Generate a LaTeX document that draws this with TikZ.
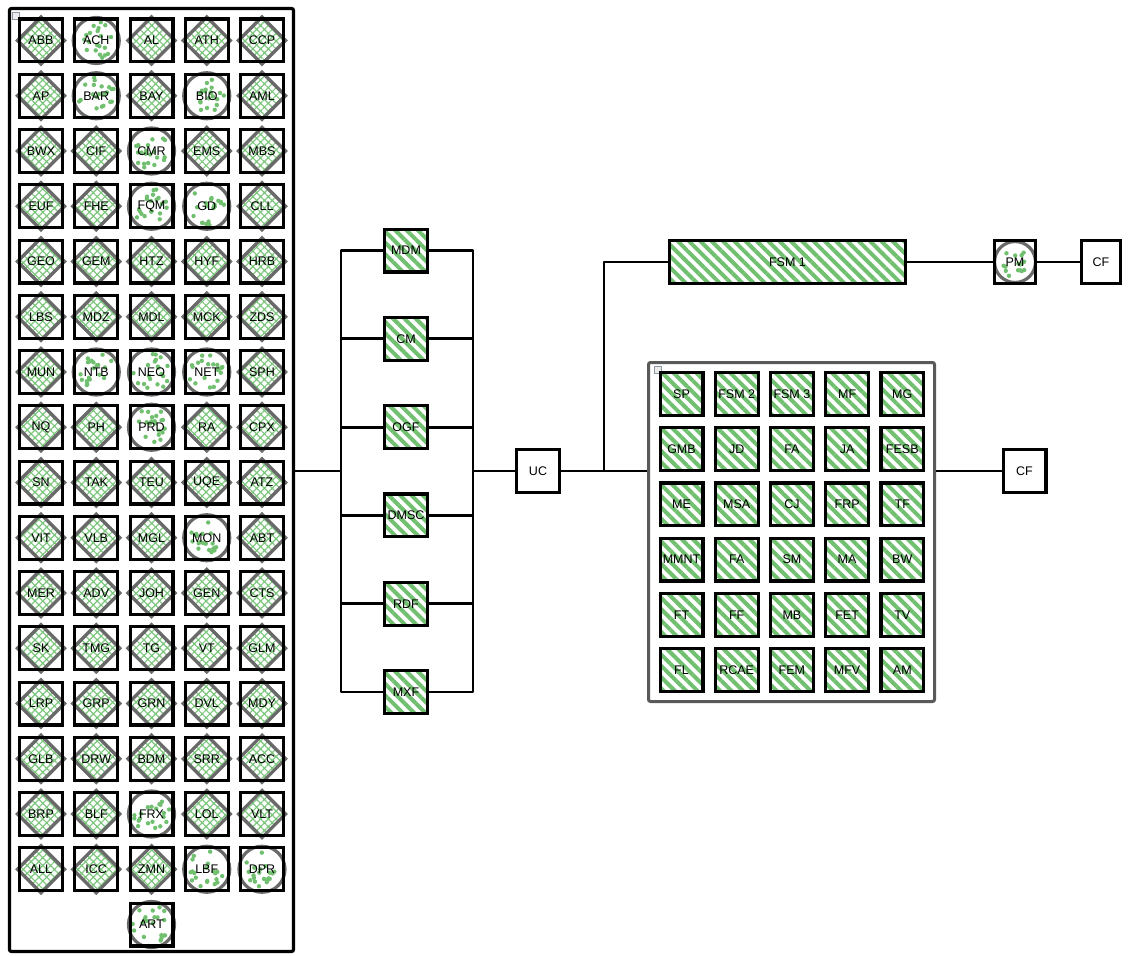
\documentclass[tikz,border=0pt]{standalone}
\usepackage{fontspec}
\setmainfont{Liberation Sans}
\usetikzlibrary{patterns.meta}
\definecolor{grn}{RGB}{112,192,112}
\definecolor{hatchg}{RGB}{125,198,125}
\definecolor{dgray}{RGB}{105,105,105}
\definecolor{icon}{RGB}{140,150,165}
\tikzset{
 cell/.style={draw=black, line width=3.2pt, minimum width=42.8pt, minimum height=42.8pt, inner sep=0pt, font=\fontsize{12.5}{13}\selectfont, text=black},
 striped/.style={pattern={Lines[angle=-45,distance=8pt,line width=4pt]}, pattern color=grn},
 hatched/.style={pattern={Hatch[angle=45,distance=5.5pt,line width=1.2pt]}, pattern color=hatchg},
 wire/.style={line width=2.9pt, line join=round},
 frame/.style={draw=black, line width=3.2pt, rounded corners=2pt, inner sep=0pt},
 gframe/.style={draw=black!65, line width=3pt, rounded corners=2pt, inner sep=0pt},
 iconbox/.style={draw=icon, line width=0.8pt, fill=black!8},
}
\newcommand{\dcellx}[4]{%
  \path[hatched, draw=dgray, line width=3.2pt] (#2,#3) +(0,-23.5) -- +(23.5,0) -- +(0,23.5) -- +(-23.5,0) -- cycle;
  \node[cell] (#1) at (#2,#3) {#4};}
\newcommand{\ccellx}[4]{%
  \draw[dgray, line width=3.2pt, fill=white] (#2,#3) circle (23);
  \foreach \k in {1,...,20}{\pgfmathsetmacro\rr{19*sqrt(rnd)}\pgfmathsetmacro\aa{360*rnd}\fill[grn] (#2,#3) ++(\aa:\rr) circle (2.2);}
  \node[cell] (#1) at (#2,#3) {#4};}
\begin{document}
\begin{tikzpicture}[x=1pt,y=-1pt]
\pgfmathsetseed{7}
\useasboundingbox (0,0) rectangle (1134,955);
% left frame
\node[frame, minimum width=284pt, minimum height=943pt] (L) at (151.5,480) {};
\draw[iconbox] (12,12) rectangle (19.5,19.5);
\foreach \row [count=\r from 0] in {
 {ABB/d,ACH/c,AL/d,ATH/d,CCP/d},
 {AP/d,BAR/c,BAY/d,BIO/c,AML/d},
 {BWX/d,CIF/d,CMR/c,EMS/d,MBS/d},
 {EUF/d,FHE/d,FQM/c,GD/c,CLL/d},
 {GEO/d,GEM/d,HTZ/d,HYF/d,HRB/d},
 {LBS/d,MDZ/d,MDL/d,MCK/d,ZDS/d},
 {MUN/d,NTB/c,NEO/c,NET/c,SPH/d},
 {NQ/d,PH/d,PRD/c,RA/d,CPX/d},
 {SN/d,TAK/d,TEU/d,UQE/d,ATZ/d},
 {VIT/d,VLB/d,MGL/d,MON/c,ABT/d},
 {MER/d,ADV/d,JOH/d,GEN/d,CTS/d},
 {SK/d,TMG/d,TG/d,VT/d,GLM/d},
 {LRP/d,GRP/d,GRN/d,DVL/d,MDY/d},
 {GLB/d,DRW/d,BDM/d,SRR/d,ACC/d},
 {BRP/d,BLF/d,FRX/c,LOL/d,VLT/d},
 {ALL/d,ICC/d,ZMN/d,LBF/c,DPR/c}}{
 \foreach \lab/\ty [count=\c from 0] in \row {
   \pgfmathsetmacro\xx{41+55.25*\c}
   \pgfmathsetmacro\yy{40.5+55.25*\r}
   \csname\ty cellx\endcsname{L-\lab}{\xx}{\yy}{\lab}
 }
}
\ccellx{L-ART}{151.5}{924.5}{ART}
% middle column
\foreach \n [count=\i from 0] in {MDM,CM,OGF,DMSC,RDF,MXF}
  \node[cell,striped] (\n) at (406,{250.5+88.3*\i}) {\n};
\node[cell, fill=white] (UC) at (538,471) {UC};
% top branch
\node[cell,striped, minimum width=236pt] (FSM1) at (787.5,262) {FSM 1};
\draw[dgray, line width=3.2pt, fill=white] (1015,262) circle (20.5);
\foreach \k in {1,...,16}{\pgfmathsetmacro\rr{16*sqrt(rnd)}\pgfmathsetmacro\aa{360*rnd}\fill[grn] (1015,262) ++(\aa:\rr) circle (2.2);}
\node[cell, minimum width=41pt] (PM) at (1015,262) {PM};
\node[cell, fill=white, minimum width=39.5pt] (CF1) at (1101,262) {CF};
% right group
\node[gframe, minimum width=286pt, minimum height=339pt] (G) at (791.5,532) {};
\draw[iconbox] (654,366) rectangle (661.5,373.5);
\foreach \row [count=\r from 0] in {{SP,FSM 2,FSM 3,MF,MG},{GMB,JD,FA,JA,FESB},{ME,MSA,CJ,FRP,TF},{MMNT,FA,SM,MA,BW},{FT,FF,MB,FET,TV},{FL,RCAE,FEM,MFV,AM}}{
 \foreach \lab [count=\c from 0] in \row {
  \node[cell, striped] (R\r\c) at ({681.5+55.2*\c},{394+55.2*\r}) {\lab};
 }}
\node[cell, fill=white] (CF2) at (1024.5,471) {CF};
% wires
\coordinate (BL) at (341,471);
\coordinate (BR) at (473,471);
\coordinate (J) at (604,471);
\draw[wire] (MDM.west) -| (BL |- MXF.west) -- (MXF.west);
\draw[wire] (MDM.east) -| (BR |- MXF.east) -- (MXF.east);
\foreach \n in {CM,OGF,DMSC,RDF}{
  \draw[wire] (\n.west) -- (\n.west -| BL);
  \draw[wire] (\n.east) -- (\n.east -| BR);
}
\draw[wire] (L.east |- BL) -- (BL);
\draw[wire] (BR) -- (UC.west);
\draw[wire] (UC.east) -- (G.west |- UC);
\draw[wire] (J) |- (FSM1.west);
\draw[wire] (FSM1.east) -- (PM.west);
\draw[wire] (PM.east) -- (CF1.west);
\draw[wire] (G.east |- CF2) -- (CF2.west);
\end{tikzpicture}
\end{document}
